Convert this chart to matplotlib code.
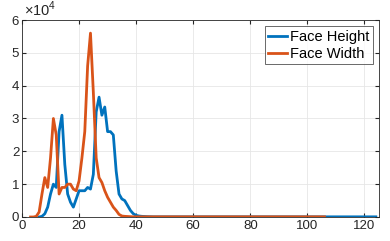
import matplotlib
matplotlib.use('Agg')
import matplotlib.pyplot as plt
from matplotlib.ticker import FuncFormatter

plt.rcParams['font.family'] = ['Liberation Sans', 'DejaVu Sans']
plt.rcParams['mathtext.fontset'] = 'custom'
plt.rcParams['mathtext.rm'] = 'Liberation Sans'

# face height histogram, x = 6 .. 124
height_x = list(range(6, 125))
height_head = [0, 200, 1000, 3000, 7000, 10000, 9000, 26000, 31000, 16000,
               7000, 4500, 3000, 5500, 8000, 8000, 8000, 9000, 8500, 13000,
               32000, 36500, 31000, 33500, 26000, 26000, 25000, 14000, 7000, 5500,
               5000, 3500, 2000, 1000, 500, 300, 200, 150, 100, 80]
height_y = height_head + [50] * (len(height_x) - len(height_head))

# face width histogram, x = 3 .. 106
width_x = list(range(3, 107))
width_head = [0, 0, 200, 1500, 7000, 12000, 9000, 18000, 30000, 25000,
              7000, 9000, 9000, 10000, 10000, 8500, 8000, 11000, 18000, 26000,
              46000, 56000, 38000, 18000, 12000, 10500, 8000, 6000, 4500, 3000,
              2000, 800, 300, 200, 150, 100]
width_y = width_head + [50] * (len(width_x) - len(width_head))

fig = plt.figure(figsize=(3.9, 2.41), dpi=100)
ax = fig.add_axes([0.0564, 0.0996, 0.9146, 0.8174])

ax.plot(height_x, height_y, color='#0072BD', linewidth=2, label='Face Height')
ax.plot(width_x, width_y, color='#D95319', linewidth=2, label='Face Width')

ax.set_xlim(0, 125)
ax.set_ylim(0, 60000)
ax.set_xticks(range(0, 121, 20))
ax.set_yticks(range(0, 60001, 10000))
ax.yaxis.set_major_formatter(FuncFormatter(lambda v, p: '%d' % round(v / 10000)))
ax.tick_params(direction='in', top=True, right=True, labelsize=9.5, length=3,
               color='#262626', labelcolor='#262626', pad=2)
ax.grid(True, color='#e6e6e6', linewidth=0.6)
ax.set_axisbelow(True)
for s in ax.spines.values():
    s.set_color('#262626')
    s.set_linewidth(0.6)

ax.text(0.005, 1.005, r'$\times\mathrm{10}^{\mathrm{4}}$', transform=ax.transAxes,
        fontsize=10.5, color='#262626', ha='left', va='bottom')

leg = ax.legend(loc='upper right', fontsize=10.5, frameon=True, fancybox=False,
                edgecolor='#262626', handlelength=1.3, handletextpad=0.15,
                borderpad=0.25, labelspacing=0.2, borderaxespad=0.42)
leg.get_frame().set_linewidth(0.6)

fig.savefig('out.png', dpi=100)
